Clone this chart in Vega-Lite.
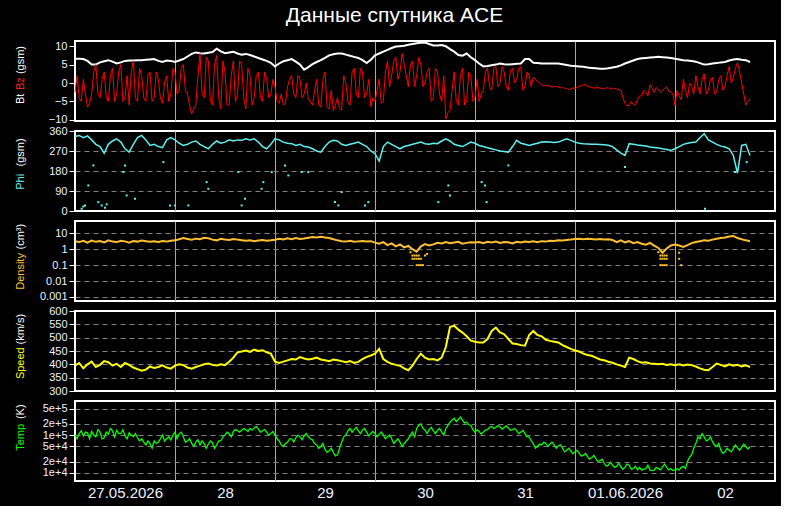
{
  "$schema": "https://vega.github.io/schema/vega-lite/v6.json",
  "background": "black",
  "padding": {"left": 12, "top": 5, "right": 5, "bottom": 5},
  "bounds": "flush",
  "spacing": 10,
  "title": {"text": "Данные спутника ACE", "color": "white", "font": "Liberation Sans", "fontSize": 21, "fontWeight": "normal", "anchor": "middle", "offset": 11},
  "config": {
    "view": {"stroke": "white", "strokeWidth": 2},
    "axisY": {"domain": false, "tickColor": "white", "tickSize": 6, "tickWidth": 1, "labelColor": "#eef2ff", "labelFont": "Liberation Sans", "labelFontSize": 11, "labelPadding": 2, "gridColor": "#808080", "gridDash": [5, 4], "gridWidth": 1, "titleFont": "Liberation Sans", "titleFontSize": 11, "titleFontWeight": "normal", "titleAngle": 270, "titleAlign": "left", "titleBaseline": "alphabetic", "titleX": -52, "titleColor": "white", "titlePadding": 0},
    "axisX": {"domain": false, "ticks": false, "grid": true, "gridColor": "#a8a8a8", "gridWidth": 1, "labelColor": "#eef2ff", "labelFont": "Liberation Sans", "labelFontSize": 15, "labelPadding": 4, "labelFlush": false}
  },
  "datasets": {
    "sw": [
      {"h":0,"bt":6.6,"phi":335,"n":3.2,"v":395},{"h":1,"bt":6.6,"phi":340,"n":2.8,"v":405},{"h":2,"bt":6.5,"phi":330,"n":3.4,"v":385},
      {"h":3,"bt":6.0,"phi":338,"n":2.6,"v":400},{"h":4,"bt":5.0,"phi":320,"n":3.5,"v":410},{"h":5,"bt":5.0,"phi":300,"n":2.9,"v":390},
      {"h":6,"bt":5.6,"phi":290,"n":3.3,"v":398},{"h":7,"bt":5.9,"phi":260,"n":2.7,"v":412},{"h":8,"bt":6.2,"phi":300,"n":3.6,"v":408},
      {"h":9,"bt":5.8,"phi":315,"n":3.0,"v":395},{"h":10,"bt":5.3,"phi":325,"n":2.8,"v":402},{"h":11,"bt":5.6,"phi":310,"n":3.4,"v":390},
      {"h":12,"bt":6.0,"phi":280,"n":3.1,"v":405},{"h":13,"bt":6.1,"phi":265,"n":2.6,"v":398},{"h":14,"bt":6.1,"phi":300,"n":3.3,"v":388},
      {"h":15,"bt":6.2,"phi":330,"n":3.0,"v":382},{"h":16,"bt":6.2,"phi":340,"n":3.5,"v":376},{"h":17,"bt":6.3,"phi":320,"n":3.2,"v":380},
      {"h":18,"bt":6.4,"phi":295,"n":2.9,"v":392},{"h":19,"bt":6.5,"phi":300,"n":3.1,"v":386},{"h":20,"bt":6.0,"phi":290,"n":2.8,"v":390},
      {"h":21,"bt":5.7,"phi":285,"n":3.3,"v":396},{"h":22,"bt":6.1,"phi":320,"n":3.0,"v":388},{"h":23,"bt":6.0,"phi":330,"n":3.4,"v":384},
      {"h":24,"bt":5.7,"phi":320,"n":3.6,"v":395},{"h":25,"bt":6.1,"phi":305,"n":4.2,"v":400},{"h":26,"bt":6.5,"phi":295,"n":5.0,"v":397},
      {"h":27,"bt":7.2,"phi":300,"n":4.4,"v":388},{"h":28,"bt":7.9,"phi":310,"n":3.9,"v":384},{"h":29,"bt":8.3,"phi":315,"n":4.6,"v":390},
      {"h":30,"bt":8.1,"phi":300,"n":4.2,"v":395},{"h":31,"bt":8.0,"phi":290,"n":5.2,"v":400},{"h":32,"bt":8.2,"phi":280,"n":4.8,"v":403},
      {"h":33,"bt":8.4,"phi":300,"n":4.0,"v":398},{"h":34,"bt":9.3,"phi":315,"n":3.6,"v":396},{"h":35,"bt":8.6,"phi":305,"n":4.5,"v":400},
      {"h":36,"bt":8.1,"phi":310,"n":4.1,"v":397},{"h":37,"bt":8.3,"phi":320,"n":3.8,"v":410},{"h":38,"bt":8.5,"phi":315,"n":4.4,"v":425},
      {"h":39,"bt":8.0,"phi":320,"n":4.0,"v":445},{"h":40,"bt":7.7,"phi":318,"n":3.7,"v":448},{"h":41,"bt":7.9,"phi":325,"n":3.4,"v":452},
      {"h":42,"bt":7.6,"phi":320,"n":3.6,"v":447},{"h":43,"bt":7.2,"phi":325,"n":3.2,"v":455},{"h":44,"bt":6.8,"phi":310,"n":3.5,"v":450},
      {"h":45,"bt":6.4,"phi":290,"n":3.8,"v":453},{"h":46,"bt":6.0,"phi":280,"n":3.4,"v":445},{"h":47,"bt":5.5,"phi":300,"n":3.6,"v":440},
      {"h":48,"bt":4.5,"phi":325,"n":3.9,"v":410},{"h":49,"bt":5.3,"phi":320,"n":4.5,"v":405},{"h":50,"bt":5.9,"phi":310,"n":4.1,"v":410},
      {"h":51,"bt":6.2,"phi":305,"n":4.8,"v":415},{"h":52,"bt":6.5,"phi":303,"n":4.3,"v":420},{"h":53,"bt":5.8,"phi":295,"n":5.0,"v":418},
      {"h":54,"bt":5.0,"phi":300,"n":4.4,"v":427},{"h":55,"bt":3.6,"phi":290,"n":4.7,"v":422},{"h":56,"bt":4.3,"phi":288,"n":5.2,"v":418},
      {"h":57,"bt":5.1,"phi":280,"n":5.8,"v":421},{"h":58,"bt":5.7,"phi":270,"n":5.4,"v":425},{"h":59,"bt":6.2,"phi":265,"n":6.0,"v":418},
      {"h":60,"bt":6.8,"phi":290,"n":5.5,"v":415},{"h":61,"bt":7.5,"phi":310,"n":5.0,"v":412},{"h":62,"bt":7.8,"phi":318,"n":4.2,"v":418},
      {"h":63,"bt":8.0,"phi":315,"n":3.6,"v":415},{"h":64,"bt":8.0,"phi":300,"n":3.2,"v":412},{"h":65,"bt":7.7,"phi":295,"n":3.0,"v":408},
      {"h":66,"bt":7.4,"phi":300,"n":3.4,"v":412},{"h":67,"bt":7.1,"phi":305,"n":2.9,"v":405},{"h":68,"bt":6.8,"phi":310,"n":3.1,"v":409},
      {"h":69,"bt":6.2,"phi":300,"n":3.3,"v":420},{"h":70,"bt":5.4,"phi":290,"n":3.0,"v":428},{"h":71,"bt":6.3,"phi":270,"n":3.2,"v":433},
      {"h":72,"bt":7.5,"phi":258,"n":2.6,"v":440},{"h":73,"bt":8.0,"phi":225,"n":2.2,"v":458},{"h":74,"bt":8.5,"phi":290,"n":2.8,"v":420},
      {"h":75,"bt":9.0,"phi":310,"n":1.8,"v":409},{"h":76,"bt":9.5,"phi":300,"n":2.3,"v":402},{"h":77,"bt":9.9,"phi":290,"n":1.5,"v":398},
      {"h":78,"bt":10.0,"phi":280,"n":2.0,"v":395},{"h":79,"bt":10.1,"phi":290,"n":1.3,"v":385},{"h":80,"bt":10.4,"phi":295,"n":1.6,"v":378},
      {"h":81,"bt":10.6,"phi":300,"n":1.0,"v":395},{"h":82,"bt":10.8,"phi":305,"n":0.7,"v":420},{"h":83,"bt":10.9,"phi":310,"n":1.5,"v":440},
      {"h":84,"bt":11.0,"phi":303,"n":2.1,"v":425},{"h":85,"bt":10.6,"phi":300,"n":1.7,"v":418},{"h":86,"bt":10.2,"phi":305,"n":2.0,"v":420},
      {"h":87,"bt":10.2,"phi":303,"n":2.5,"v":415},{"h":88,"bt":10.3,"phi":315,"n":2.3,"v":425},{"h":89,"bt":10.0,"phi":325,"n":2.8,"v":465},
      {"h":90,"bt":9.2,"phi":315,"n":2.4,"v":540},{"h":91,"bt":8.5,"phi":300,"n":2.6,"v":545},{"h":92,"bt":7.6,"phi":295,"n":2.9,"v":530},
      {"h":93,"bt":7.4,"phi":290,"n":2.2,"v":519},{"h":94,"bt":8.0,"phi":300,"n":2.5,"v":505},{"h":95,"bt":7.0,"phi":310,"n":2.7,"v":489},
      {"h":96,"bt":6.2,"phi":305,"n":2.6,"v":485},{"h":97,"bt":5.3,"phi":295,"n":2.8,"v":482},{"h":98,"bt":4.5,"phi":290,"n":2.4,"v":482},
      {"h":99,"bt":4.6,"phi":285,"n":2.9,"v":495},{"h":100,"bt":4.8,"phi":280,"n":2.6,"v":525},{"h":101,"bt":5.0,"phi":275,"n":3.0,"v":538},
      {"h":102,"bt":5.3,"phi":270,"n":2.5,"v":520},{"h":103,"bt":5.1,"phi":268,"n":2.8,"v":513},{"h":104,"bt":5.0,"phi":265,"n":2.7,"v":495},
      {"h":105,"bt":5.1,"phi":290,"n":2.3,"v":478},{"h":106,"bt":5.2,"phi":318,"n":2.9,"v":476},{"h":107,"bt":5.3,"phi":305,"n":2.6,"v":472},
      {"h":108,"bt":6.5,"phi":300,"n":3.0,"v":470},{"h":109,"bt":6.5,"phi":295,"n":2.8,"v":510},{"h":110,"bt":5.5,"phi":300,"n":3.1,"v":525},
      {"h":111,"bt":5.4,"phi":305,"n":2.7,"v":510},{"h":112,"bt":5.3,"phi":310,"n":3.2,"v":505},{"h":113,"bt":5.3,"phi":312,"n":3.0,"v":492},
      {"h":114,"bt":5.3,"phi":310,"n":3.4,"v":488},{"h":115,"bt":5.3,"phi":308,"n":3.3,"v":485},{"h":116,"bt":5.3,"phi":310,"n":3.6,"v":482},
      {"h":117,"bt":5.1,"phi":318,"n":3.5,"v":472},{"h":118,"bt":4.9,"phi":325,"n":3.8,"v":465},{"h":119,"bt":4.7,"phi":318,"n":4.0,"v":458},
      {"h":120,"bt":4.6,"phi":310,"n":4.3,"v":452},{"h":121,"bt":4.5,"phi":305,"n":4.6,"v":448},{"h":122,"bt":4.4,"phi":303,"n":4.2,"v":440},
      {"h":123,"bt":4.2,"phi":302,"n":4.5,"v":435},{"h":124,"bt":4.1,"phi":300,"n":4.4,"v":432},{"h":125,"bt":4.0,"phi":300,"n":4.1,"v":425},
      {"h":126,"bt":3.9,"phi":299,"n":4.3,"v":418},{"h":127,"bt":3.9,"phi":298,"n":4.0,"v":415},{"h":128,"bt":4.0,"phi":296,"n":4.2,"v":410},
      {"h":129,"bt":4.2,"phi":290,"n":3.8,"v":406},{"h":130,"bt":4.4,"phi":275,"n":2.8,"v":400},{"h":131,"bt":4.8,"phi":260,"n":3.6,"v":395},
      {"h":132,"bt":5.3,"phi":250,"n":2.7,"v":390},{"h":133,"bt":5.7,"phi":303,"n":3.2,"v":425},{"h":134,"bt":6.1,"phi":300,"n":2.4,"v":420},
      {"h":135,"bt":6.5,"phi":297,"n":2.8,"v":412},{"h":136,"bt":6.7,"phi":295,"n":2.2,"v":406},{"h":137,"bt":6.8,"phi":292,"n":1.9,"v":408},
      {"h":138,"bt":6.9,"phi":288,"n":2.5,"v":403},{"h":139,"bt":7.0,"phi":286,"n":1.7,"v":402},{"h":140,"bt":7.1,"phi":284,"n":1.2,"v":400},
      {"h":141,"bt":7.0,"phi":280,"n":0.6,"v":402},{"h":142,"bt":6.9,"phi":277,"n":1.1,"v":398},{"h":143,"bt":6.8,"phi":273,"n":1.7,"v":400},
      {"h":144,"bt":6.6,"phi":280,"n":2.0,"v":397},{"h":145,"bt":6.4,"phi":290,"n":1.7,"v":400},{"h":146,"bt":6.2,"phi":300,"n":1.4,"v":396},
      {"h":147,"bt":6.1,"phi":305,"n":1.8,"v":399},{"h":148,"bt":6.0,"phi":308,"n":2.4,"v":397},{"h":149,"bt":5.8,"phi":310,"n":2.8,"v":392},
      {"h":150,"bt":5.4,"phi":330,"n":3.2,"v":385},{"h":151,"bt":5.0,"phi":348,"n":3.6,"v":380},{"h":152,"bt":5.1,"phi":320,"n":3.4,"v":378},
      {"h":153,"bt":5.3,"phi":310,"n":4.0,"v":390},{"h":154,"bt":5.4,"phi":300,"n":4.5,"v":403},{"h":155,"bt":5.6,"phi":292,"n":5.0,"v":398},
      {"h":156,"bt":5.7,"phi":288,"n":5.5,"v":392},{"h":157,"bt":6.1,"phi":280,"n":6.3,"v":400},{"h":158,"bt":6.4,"phi":250,"n":6.8,"v":395},
      {"h":159,"bt":6.5,"phi":170,"n":5.0,"v":398},{"h":160,"bt":6.3,"phi":295,"n":4.2,"v":392},{"h":161,"bt":6.2,"phi":300,"n":3.6,"v":396},
      {"h":162,"bt":5.7,"phi":250,"n":3.2,"v":390}
    ],
    "bz": [
      {"h":0,"bz":-2.5},{"h":0.5,"bz":2},{"h":1,"bz":-4},{"h":1.5,"bz":-5},{"h":2,"bz":1},{"h":2.5,"bz":-3},{"h":3,"bz":-6.5},{"h":3.5,"bz":-5.5},
      {"h":4,"bz":-3},{"h":4.5,"bz":3},{"h":5,"bz":5},{"h":5.5,"bz":-3},{"h":6,"bz":-4},{"h":6.5,"bz":1},{"h":7,"bz":3},{"h":7.5,"bz":-4},
      {"h":8,"bz":-5},{"h":8.5,"bz":2},{"h":9,"bz":4},{"h":9.5,"bz":-5},{"h":10,"bz":-3},{"h":10.5,"bz":3},{"h":11,"bz":5},{"h":11.5,"bz":-5},
      {"h":12,"bz":-4},{"h":12.5,"bz":2},{"h":13,"bz":-6},{"h":13.5,"bz":3},{"h":14,"bz":6},{"h":14.5,"bz":-4},{"h":15,"bz":-5},{"h":15.5,"bz":4},
      {"h":16,"bz":2},{"h":16.5,"bz":-4},{"h":17,"bz":-5},{"h":17.5,"bz":2},{"h":18,"bz":3},{"h":18.5,"bz":-5},{"h":19,"bz":-4},{"h":19.5,"bz":3},
      {"h":20,"bz":1},{"h":20.5,"bz":-4},{"h":21,"bz":-5.5},{"h":21.5,"bz":0},{"h":22,"bz":2},{"h":22.5,"bz":-5},{"h":23,"bz":-3},{"h":23.5,"bz":4},
      {"h":24,"bz":3},{"h":24.5,"bz":-3},{"h":25,"bz":-2},{"h":25.5,"bz":4},{"h":26,"bz":5},{"h":26.5,"bz":-2},{"h":27,"bz":-3},{"h":27.5,"bz":-6},
      {"h":28,"bz":-8.4},{"h":28.5,"bz":-7},{"h":29,"bz":-6},{"h":29.5,"bz":2},{"h":30,"bz":8},{"h":30.5,"bz":-3},{"h":31,"bz":-4},{"h":31.5,"bz":7},
      {"h":32,"bz":6},{"h":32.5,"bz":-5},{"h":33,"bz":-6},{"h":33.5,"bz":5},{"h":34,"bz":7.5},{"h":34.5,"bz":-4},{"h":35,"bz":-7},{"h":35.5,"bz":6},
      {"h":36,"bz":3},{"h":36.5,"bz":-6},{"h":37,"bz":-6},{"h":37.5,"bz":2},{"h":38,"bz":6},{"h":38.5,"bz":-5},{"h":39,"bz":-3},{"h":39.5,"bz":6},
      {"h":40,"bz":5},{"h":40.5,"bz":-4},{"h":41,"bz":-7},{"h":41.5,"bz":4},{"h":42,"bz":2},{"h":42.5,"bz":-6},{"h":43,"bz":-4},{"h":43.5,"bz":2},
      {"h":44,"bz":3},{"h":44.5,"bz":-4},{"h":45,"bz":-5},{"h":45.5,"bz":3},{"h":46,"bz":1},{"h":46.5,"bz":-4},{"h":47,"bz":-3},{"h":47.5,"bz":1},
      {"h":48,"bz":-1},{"h":48.5,"bz":-5},{"h":49,"bz":-5.5},{"h":49.5,"bz":-3},{"h":50,"bz":-6},{"h":50.5,"bz":-5.5},{"h":51,"bz":-1},{"h":51.5,"bz":1},
      {"h":52,"bz":2},{"h":52.5,"bz":-3},{"h":53,"bz":-4},{"h":53.5,"bz":2},{"h":54,"bz":1},{"h":54.5,"bz":-4},{"h":55,"bz":-3},{"h":55.5,"bz":0},
      {"h":56,"bz":-4.5},{"h":56.5,"bz":-5},{"h":57,"bz":-6},{"h":57.5,"bz":-2},{"h":58,"bz":1},{"h":58.5,"bz":-6},{"h":59,"bz":-6.5},{"h":59.5,"bz":1},
      {"h":60,"bz":3},{"h":60.5,"bz":-6.5},{"h":61,"bz":-7},{"h":61.5,"bz":-2},{"h":62,"bz":-7.5},{"h":62.5,"bz":-6},{"h":63,"bz":-4},{"h":63.5,"bz":-7},
      {"h":64,"bz":-7.3},{"h":64.5,"bz":2},{"h":65,"bz":0},{"h":65.5,"bz":-5},{"h":66,"bz":-6},{"h":66.5,"bz":3},{"h":67,"bz":4},{"h":67.5,"bz":-3},
      {"h":68,"bz":-4},{"h":68.5,"bz":4},{"h":69,"bz":3},{"h":69.5,"bz":-4},{"h":70,"bz":-3},{"h":70.5,"bz":1},{"h":71,"bz":-6.5},{"h":71.5,"bz":-4},
      {"h":72,"bz":-5},{"h":72.5,"bz":-2},{"h":73,"bz":1},{"h":73.5,"bz":-5.5},{"h":74,"bz":-5},{"h":74.5,"bz":3},{"h":75,"bz":6},{"h":75.5,"bz":-1},
      {"h":76,"bz":2},{"h":76.5,"bz":6},{"h":77,"bz":7},{"h":77.5,"bz":1},{"h":78,"bz":3},{"h":78.5,"bz":8},{"h":79,"bz":5},{"h":79.5,"bz":2},
      {"h":80,"bz":-1},{"h":80.5,"bz":5},{"h":81,"bz":6},{"h":81.5,"bz":-1},{"h":82,"bz":2},{"h":82.5,"bz":7},{"h":83,"bz":5},{"h":83.5,"bz":-1},
      {"h":84,"bz":0},{"h":84.5,"bz":3},{"h":85,"bz":4},{"h":85.5,"bz":-5},{"h":86,"bz":-4},{"h":86.5,"bz":4},{"h":87,"bz":3},{"h":87.5,"bz":-3},
      {"h":88,"bz":-5},{"h":88.5,"bz":2},{"h":89,"bz":-9.7},{"h":89.5,"bz":-8},{"h":90,"bz":-7.5},{"h":90.5,"bz":-2},{"h":91,"bz":3},{"h":91.5,"bz":-5},
      {"h":92,"bz":-6},{"h":92.5,"bz":2},{"h":93,"bz":4},{"h":93.5,"bz":-6},{"h":94,"bz":-5},{"h":94.5,"bz":3},{"h":95,"bz":2},{"h":95.5,"bz":-5},
      {"h":96,"bz":-4},{"h":96.5,"bz":1},{"h":97,"bz":-5},{"h":97.5,"bz":-3},{"h":98,"bz":-2},{"h":98.5,"bz":3},{"h":99,"bz":4},{"h":99.5,"bz":-1},
      {"h":100,"bz":-2},{"h":100.5,"bz":4},{"h":101,"bz":4.5},{"h":101.5,"bz":-1},{"h":102,"bz":0},{"h":102.5,"bz":4.5},{"h":103,"bz":3},{"h":103.5,"bz":-1},
      {"h":104,"bz":-2},{"h":104.5,"bz":3.5},{"h":105,"bz":4},{"h":105.5,"bz":0},{"h":106,"bz":1},{"h":106.5,"bz":4},{"h":107,"bz":4.5},{"h":107.5,"bz":-2},
      {"h":108,"bz":-1},{"h":108.5,"bz":3},{"h":109,"bz":2},{"h":109.5,"bz":-1},{"h":110,"bz":1.6},{"h":110.5,"bz":1},{"h":111,"bz":0.5},{"h":111.5,"bz":0},
      {"h":112,"bz":-0.5},{"h":112.5,"bz":-0.7},{"h":113,"bz":-0.8},{"h":113.5,"bz":-0.6},{"h":114,"bz":-0.9},{"h":114.5,"bz":-1.1},{"h":115,"bz":-1.0},{"h":115.5,"bz":-0.9},
      {"h":116,"bz":-1.1},{"h":116.5,"bz":-1.3},{"h":117,"bz":-1.2},{"h":117.5,"bz":-1.4},{"h":118,"bz":-1.5},{"h":118.5,"bz":-1.8},{"h":119,"bz":-1.6},{"h":119.5,"bz":-1.3},
      {"h":120,"bz":-1.5},{"h":120.5,"bz":-1.2},{"h":121,"bz":-1.0},{"h":121.5,"bz":-0.7},{"h":122,"bz":-0.5},{"h":122.5,"bz":-0.4},{"h":123,"bz":-0.9},{"h":123.5,"bz":-1.1},
      {"h":124,"bz":-1.2},{"h":124.5,"bz":-1.4},{"h":125,"bz":-1.3},{"h":125.5,"bz":-1.2},{"h":126,"bz":-1.4},{"h":126.5,"bz":-1.6},{"h":127,"bz":-1.5},{"h":127.5,"bz":-1.3},
      {"h":128,"bz":-1.3},{"h":128.5,"bz":-1.6},{"h":129,"bz":-1.5},{"h":129.5,"bz":-1.4},{"h":130,"bz":-1.6},{"h":130.5,"bz":-1.8},{"h":131,"bz":-2},{"h":131.5,"bz":-4},
      {"h":132,"bz":-5.5},{"h":132.5,"bz":-6.2},{"h":133,"bz":-6},{"h":133.5,"bz":-5},{"h":134,"bz":-5.8},{"h":134.5,"bz":-6},{"h":135,"bz":-4.5},{"h":135.5,"bz":-3.5},
      {"h":136,"bz":-3.5},{"h":136.5,"bz":-2},{"h":137,"bz":-2.5},{"h":137.5,"bz":-3.5},{"h":138,"bz":-0.5},{"h":138.5,"bz":-1.5},{"h":139,"bz":-2.5},{"h":139.5,"bz":-1.2},
      {"h":140,"bz":-1.8},{"h":140.5,"bz":-2.5},{"h":141,"bz":-2},{"h":141.5,"bz":-1.5},{"h":142,"bz":-1},{"h":142.5,"bz":-2.2},{"h":143,"bz":-2.5},{"h":143.5,"bz":-3},
      {"h":144,"bz":-6},{"h":144.5,"bz":-2},{"h":145,"bz":-3.5},{"h":145.5,"bz":-4.5},{"h":146,"bz":1},{"h":146.5,"bz":-2},{"h":147,"bz":-4},{"h":147.5,"bz":0},
      {"h":148,"bz":-1},{"h":148.5,"bz":-3},{"h":149,"bz":2},{"h":149.5,"bz":-1},{"h":150,"bz":-3},{"h":150.5,"bz":1},{"h":151,"bz":2.5},{"h":151.5,"bz":-3},
      {"h":152,"bz":-2},{"h":152.5,"bz":1},{"h":153,"bz":1.5},{"h":153.5,"bz":-3},{"h":154,"bz":-2.5},{"h":154.5,"bz":1},{"h":155,"bz":2},{"h":155.5,"bz":-2},
      {"h":156,"bz":-1},{"h":156.5,"bz":2},{"h":157,"bz":4.5},{"h":157.5,"bz":0},{"h":158,"bz":1.5},{"h":158.5,"bz":4},{"h":159,"bz":5.5},{"h":159.5,"bz":3},
      {"h":160,"bz":0},{"h":160.5,"bz":-3},{"h":161,"bz":-6},{"h":161.5,"bz":-5},{"h":162,"bz":-4.3}
    ],
    "tt": [
      {"h":0,"T":1.0e5},{"h":0.5,"T":8e4},{"h":1,"T":1.1e5},{"h":1.5,"T":1.3e5},{"h":2,"T":9.5e4},{"h":2.5,"T":1.2e5},{"h":3,"T":1.15e5},{"h":3.5,"T":8e4},
      {"h":4,"T":1.25e5},{"h":4.5,"T":1.0e5},{"h":5,"T":9e4},{"h":5.5,"T":1.4e5},{"h":6,"T":1.2e5},{"h":6.5,"T":8e4},{"h":7,"T":8.5e4},{"h":7.5,"T":1.2e5},
      {"h":8,"T":1.05e5},{"h":8.5,"T":1.5e5},{"h":9,"T":1.3e5},{"h":9.5,"T":9e4},{"h":10,"T":1.35e5},{"h":10.5,"T":1.1e5},{"h":11,"T":1.1e5},{"h":11.5,"T":1.4e5},
      {"h":12,"T":9.5e4},{"h":12.5,"T":8e4},{"h":13,"T":1.15e5},{"h":13.5,"T":1.0e5},{"h":14,"T":9e4},{"h":14.5,"T":1.1e5},{"h":15,"T":8.5e4},{"h":15.5,"T":7e4},
      {"h":16,"T":8e4},{"h":16.5,"T":6.5e4},{"h":17,"T":5.5e4},{"h":17.5,"T":7e4},{"h":18,"T":6e4},{"h":18.5,"T":4.5e4},{"h":19,"T":7e4},{"h":19.5,"T":6e4},
      {"h":20,"T":6.5e4},{"h":20.5,"T":8e4},{"h":21,"T":1.0e5},{"h":21.5,"T":7e4},{"h":22,"T":8e4},{"h":22.5,"T":9e4},{"h":23,"T":7.5e4},{"h":23.5,"T":1.0e5},
      {"h":24,"T":1.2e5},{"h":24.5,"T":8e4},{"h":25,"T":1.1e5},{"h":25.5,"T":1.2e5},{"h":26,"T":9e4},{"h":26.5,"T":6.5e4},{"h":27,"T":7e4},{"h":27.5,"T":8e4},
      {"h":28,"T":6e4},{"h":28.5,"T":5e4},{"h":29,"T":6.5e4},{"h":29.5,"T":7.5e4},{"h":30,"T":5.5e4},{"h":30.5,"T":7e4},{"h":31,"T":6e4},{"h":31.5,"T":4.5e4},
      {"h":32,"T":5.8e4},{"h":32.5,"T":7e4},{"h":33,"T":6.2e4},{"h":33.5,"T":4.5e4},{"h":34,"T":5.5e4},{"h":34.5,"T":7e4},{"h":35,"T":7e4},{"h":35.5,"T":9e4},
      {"h":36,"T":1.0e5},{"h":36.5,"T":1.2e5},{"h":37,"T":1.1e5},{"h":37.5,"T":9e4},{"h":38,"T":1.25e5},{"h":38.5,"T":1.4e5},{"h":39,"T":1.3e5},{"h":39.5,"T":1.2e5},
      {"h":40,"T":1.35e5},{"h":40.5,"T":1.5e5},{"h":41,"T":1.4e5},{"h":41.5,"T":1.25e5},{"h":42,"T":1.5e5},{"h":42.5,"T":1.35e5},{"h":43,"T":1.55e5},{"h":43.5,"T":1.7e5},
      {"h":44,"T":1.45e5},{"h":44.5,"T":1.2e5},{"h":45,"T":1.3e5},{"h":45.5,"T":1.4e5},{"h":46,"T":1.2e5},{"h":46.5,"T":1.0e5},{"h":47,"T":1.1e5},{"h":47.5,"T":1.25e5},
      {"h":48,"T":1.0e5},{"h":48.5,"T":8e4},{"h":49,"T":7e4},{"h":49.5,"T":5.5e4},{"h":50,"T":5e4},{"h":50.5,"T":6e4},{"h":51,"T":6.5e4},{"h":51.5,"T":8e4},
      {"h":52,"T":8e4},{"h":52.5,"T":6.5e4},{"h":53,"T":8.5e4},{"h":53.5,"T":1.0e5},{"h":54,"T":9e4},{"h":54.5,"T":7.5e4},{"h":55,"T":9.5e4},{"h":55.5,"T":1.1e5},
      {"h":56,"T":9e4},{"h":56.5,"T":8e4},{"h":57,"T":7.5e4},{"h":57.5,"T":6e4},{"h":58,"T":5.5e4},{"h":58.5,"T":4.5e4},{"h":59,"T":5e4},{"h":59.5,"T":6e4},
      {"h":60,"T":4.2e4},{"h":60.5,"T":3.5e4},{"h":61,"T":3.8e4},{"h":61.5,"T":4.5e4},{"h":62,"T":3.5e4},{"h":62.5,"T":2.8e4},{"h":63,"T":3e4},{"h":63.5,"T":4.5e4},
      {"h":64,"T":6.5e4},{"h":64.5,"T":9e4},{"h":65,"T":1.0e5},{"h":65.5,"T":1.3e5},{"h":66,"T":1.5e5},{"h":66.5,"T":1.2e5},{"h":67,"T":1.4e5},{"h":67.5,"T":1.6e5},
      {"h":68,"T":1.3e5},{"h":68.5,"T":1.1e5},{"h":69,"T":1.35e5},{"h":69.5,"T":1.5e5},{"h":70,"T":1.2e5},{"h":70.5,"T":9.5e4},{"h":71,"T":1.1e5},{"h":71.5,"T":1.25e5},
      {"h":72,"T":1.1e5},{"h":72.5,"T":9e4},{"h":73,"T":1.05e5},{"h":73.5,"T":1.2e5},{"h":74,"T":1.0e5},{"h":74.5,"T":8e4},{"h":75,"T":9e4},{"h":75.5,"T":1.0e5},
      {"h":76,"T":8e4},{"h":76.5,"T":6e4},{"h":77,"T":7e4},{"h":77.5,"T":8e4},{"h":78,"T":6.5e4},{"h":78.5,"T":5e4},{"h":79,"T":6e4},{"h":79.5,"T":7e4},
      {"h":80,"T":8e4},{"h":80.5,"T":1.0e5},{"h":81,"T":1.2e5},{"h":81.5,"T":9e4},{"h":82,"T":1.5e5},{"h":82.5,"T":1.8e5},{"h":83,"T":2.0e5},{"h":83.5,"T":1.5e5},
      {"h":84,"T":1.35e5},{"h":84.5,"T":1.1e5},{"h":85,"T":1.4e5},{"h":85.5,"T":1.6e5},{"h":86,"T":1.3e5},{"h":86.5,"T":1.1e5},{"h":87,"T":1.35e5},{"h":87.5,"T":1.5e5},
      {"h":88,"T":1.2e5},{"h":88.5,"T":1.0e5},{"h":89,"T":1.5e5},{"h":89.5,"T":1.8e5},{"h":90,"T":2.2e5},{"h":90.5,"T":2.5e5},{"h":91,"T":2.8e5},{"h":91.5,"T":2.3e5},
      {"h":92,"T":2.6e5},{"h":92.5,"T":3.0e5},{"h":93,"T":2.5e5},{"h":93.5,"T":2.1e5},{"h":94,"T":2.2e5},{"h":94.5,"T":1.9e5},{"h":95,"T":1.8e5},{"h":95.5,"T":1.4e5},
      {"h":96,"T":1.2e5},{"h":96.5,"T":1.4e5},{"h":97,"T":1.25e5},{"h":97.5,"T":1.05e5},{"h":98,"T":1.2e5},{"h":98.5,"T":1.35e5},{"h":99,"T":1.4e5},{"h":99.5,"T":1.6e5},
      {"h":100,"T":1.7e5},{"h":100.5,"T":1.5e5},{"h":101,"T":1.6e5},{"h":101.5,"T":1.8e5},{"h":102,"T":1.65e5},{"h":102.5,"T":1.45e5},{"h":103,"T":1.6e5},{"h":103.5,"T":1.75e5},
      {"h":104,"T":1.55e5},{"h":104.5,"T":1.35e5},{"h":105,"T":1.4e5},{"h":105.5,"T":1.5e5},{"h":106,"T":1.3e5},{"h":106.5,"T":1.1e5},{"h":107,"T":1.2e5},{"h":107.5,"T":1.35e5},
      {"h":108,"T":1.1e5},{"h":108.5,"T":9e4},{"h":109,"T":9e4},{"h":109.5,"T":7e4},{"h":110,"T":6e4},{"h":110.5,"T":4.5e4},{"h":111,"T":5e4},{"h":111.5,"T":5.8e4},
      {"h":112,"T":5.5e4},{"h":112.5,"T":6.5e4},{"h":113,"T":6e4},{"h":113.5,"T":5e4},{"h":114,"T":5.8e4},{"h":114.5,"T":6.5e4},{"h":115,"T":5.5e4},{"h":115.5,"T":4.5e4},
      {"h":116,"T":5.2e4},{"h":116.5,"T":5.5e4},{"h":117,"T":4.5e4},{"h":117.5,"T":3.6e4},{"h":118,"T":4e4},{"h":118.5,"T":4.5e4},{"h":119,"T":3.8e4},{"h":119.5,"T":3.2e4},
      {"h":120,"T":3.6e4},{"h":120.5,"T":4e4},{"h":121,"T":3.3e4},{"h":121.5,"T":2.8e4},{"h":122,"T":2.9e4},{"h":122.5,"T":3.3e4},{"h":123,"T":2.7e4},{"h":123.5,"T":2.3e4},
      {"h":124,"T":2.5e4},{"h":124.5,"T":2.9e4},{"h":125,"T":2.4e4},{"h":125.5,"T":2e4},{"h":126,"T":2.1e4},{"h":126.5,"T":2.3e4},{"h":127,"T":1.8e4},{"h":127.5,"T":1.5e4},
      {"h":128,"T":1.6e4},{"h":128.5,"T":1.9e4},{"h":129,"T":1.6e4},{"h":129.5,"T":1.4e4},{"h":130,"T":1.5e4},{"h":130.5,"T":1.8e4},{"h":131,"T":1.45e4},{"h":131.5,"T":1.25e4},
      {"h":132,"T":1.4e4},{"h":132.5,"T":1.7e4},{"h":133,"T":1.6e4},{"h":133.5,"T":1.25e4},{"h":134,"T":1.3e4},{"h":134.5,"T":1.5e4},{"h":135,"T":1.2e4},{"h":135.5,"T":1.4e4},
      {"h":136,"T":1.18e4},{"h":136.5,"T":1.25e4},{"h":137,"T":1.3e4},{"h":137.5,"T":1.6e4},{"h":138,"T":1.2e4},{"h":138.5,"T":1.15e4},{"h":139,"T":1.18e4},{"h":139.5,"T":1.4e4},
      {"h":140,"T":1.3e4},{"h":140.5,"T":1.2e4},{"h":141,"T":1.45e4},{"h":141.5,"T":1.7e4},{"h":142,"T":1.4e4},{"h":142.5,"T":1.2e4},{"h":143,"T":1.3e4},{"h":143.5,"T":1.15e4},
      {"h":144,"T":1.2e4},{"h":144.5,"T":1.3e4},{"h":145,"T":1.18e4},{"h":145.5,"T":1.4e4},{"h":146,"T":1.5e4},{"h":146.5,"T":1.3e4},{"h":147,"T":2e4},{"h":147.5,"T":2.6e4},
      {"h":148,"T":3e4},{"h":148.5,"T":4.5e4},{"h":149,"T":6e4},{"h":149.5,"T":9e4},{"h":150,"T":8e4},{"h":150.5,"T":1.1e5},{"h":151,"T":9e4},{"h":151.5,"T":7e4},
      {"h":152,"T":7.5e4},{"h":152.5,"T":9e4},{"h":153,"T":6.6e4},{"h":153.5,"T":5.5e4},{"h":154,"T":5e4},{"h":154.5,"T":6e4},{"h":155,"T":4e4},{"h":155.5,"T":3.3e4},
      {"h":156,"T":3.6e4},{"h":156.5,"T":4.5e4},{"h":157,"T":4e4},{"h":157.5,"T":3.6e4},{"h":158,"T":4.4e4},{"h":158.5,"T":5.5e4},{"h":159,"T":4.6e4},{"h":159.5,"T":4e4},
      {"h":160,"T":4.8e4},{"h":160.5,"T":5.8e4},{"h":161,"T":5e4},{"h":161.5,"T":4.3e4},{"h":162,"T":4.9e4}
    ],
    "phiOut": [
      {"h":1.6,"phi":10},{"h":2,"phi":20},{"h":2.4,"phi":25},{"h":3.2,"phi":115},{"h":4.4,"phi":205},
      {"h":5.6,"phi":40},{"h":6.4,"phi":25},{"h":7.2,"phi":15},{"h":7.6,"phi":30},{"h":11.6,"phi":175},
      {"h":12,"phi":205},{"h":12.4,"phi":70},{"h":14.4,"phi":55},{"h":21.2,"phi":220},{"h":22.8,"phi":25},
      {"h":24,"phi":25},{"h":27.2,"phi":25},{"h":31.6,"phi":130},{"h":32,"phi":100},{"h":39.2,"phi":175},
      {"h":40,"phi":25},{"h":40.8,"phi":55},{"h":44.8,"phi":100},{"h":45.2,"phi":130},{"h":47.2,"phi":175},
      {"h":50.4,"phi":205},{"h":51.2,"phi":160},{"h":54.4,"phi":175},{"h":56,"phi":175},{"h":62.4,"phi":40},
      {"h":63.2,"phi":25},{"h":64,"phi":85},{"h":69.6,"phi":25},{"h":70.4,"phi":40},{"h":87.2,"phi":40},
      {"h":89.6,"phi":115},{"h":90,"phi":70},{"h":97.6,"phi":130},{"h":98.4,"phi":115},{"h":98.8,"phi":40},
      {"h":104,"phi":205},{"h":132,"phi":198},{"h":151.2,"phi":10},{"h":158.4,"phi":175},{"h":161.2,"phi":220}
    ],
    "nOut": [
      {"h":80.5,"n":0.65},{"h":81,"n":0.4},{"h":81.5,"n":0.4},{"h":82,"n":0.4},{"h":82.5,"n":0.4},
      {"h":81,"n":0.25},{"h":81.5,"n":0.25},{"h":82,"n":0.25},{"h":82.5,"n":0.25},{"h":83,"n":0.25},
      {"h":82,"n":0.1},{"h":82.5,"n":0.1},{"h":83,"n":0.1},{"h":83.5,"n":0.1},{"h":84,"n":0.4},
      {"h":84.5,"n":0.5},{"h":140,"n":0.65},{"h":140.5,"n":0.4},{"h":141,"n":0.4},{"h":141.5,"n":0.4},
      {"h":142,"n":0.4},{"h":140.5,"n":0.25},{"h":141,"n":0.25},{"h":141.5,"n":0.25},{"h":142,"n":0.25},
      {"h":140.5,"n":0.1},{"h":141,"n":0.1},{"h":141.5,"n":0.1},{"h":142,"n":0.1},{"h":145,"n":0.25},
      {"h":145.5,"n":0.1},{"h":145,"n":0.6}
    ],
    "blank": [{"b": 0, "v": 450, "T": 1e5}]
  },
  "vconcat": [
    {
      "width": 700, "height": 80,
      "resolve": {"axis": {"y": "independent"}},
      "layer": [
        {
          "data": {"name": "sw"},
          "mark": {"type": "line", "color": "white", "strokeWidth": 2},
          "encoding": {
            "x": {"field": "h", "type": "quantitative", "scale": {"domain": [0, 168], "nice": false, "zero": false}, "axis": {"values": [24, 48, 72, 96, 120, 144], "labels": false, "title": null}},
            "y": {"field": "bt", "type": "quantitative", "scale": {"domain": [-10.3, 11.4], "nice": false, "zero": false}, "axis": {"orient": "left", "title": "Bt", "titleY": 62.6, "labels": false, "ticks": false, "grid": false}}
          }
        },
        {
          "data": {"name": "bz"},
          "mark": {"type": "line", "color": "#ff0000", "strokeWidth": 1},
          "encoding": {
            "x": {"field": "h", "type": "quantitative", "scale": {"domain": [0, 168], "nice": false, "zero": false}, "axis": {"values": [24, 48, 72, 96, 120, 144], "labels": false, "title": null}},
            "y": {"field": "bz", "type": "quantitative", "scale": {"domain": [-10.3, 11.4], "nice": false, "zero": false}, "axis": {"orient": "left", "values": [-10, -5, 0, 5, 10], "title": "Bz", "titleColor": "#ff2020", "titleY": 48.5}}
          }
        },
        {
          "data": {"name": "blank"},
          "mark": {"type": "point", "opacity": 0},
          "encoding": {
            "y": {"field": "b", "type": "quantitative", "scale": {"domain": [-10.3, 11.4], "nice": false, "zero": false}, "axis": {"orient": "left", "title": "(gsm)", "titleY": 32.6, "labels": false, "ticks": false, "grid": false}}
          }
        }
      ]
    },
    {
      "width": 700, "height": 80,
      "resolve": {"axis": {"y": "independent"}},
      "layer": [
        {
          "data": {"name": "sw"},
          "mark": {"type": "line", "color": "#5ff0f0", "strokeWidth": 1.5},
          "encoding": {
            "x": {"field": "h", "type": "quantitative", "scale": {"domain": [0, 168], "nice": false, "zero": false}, "axis": {"values": [24, 48, 72, 96, 120, 144], "labels": false, "title": null}},
            "y": {"field": "phi", "type": "quantitative", "scale": {"domain": [0, 360], "nice": false, "zero": false}, "axis": {"orient": "left", "values": [0, 90, 180, 270, 360], "title": "Phi", "titleColor": "#5ff0f0", "titleY": 58.3, "gridOpacity": {"condition": {"test": "datum.value == 0 || datum.value == 360", "value": 0}, "value": 1}}}
          }
        },
        {
          "data": {"name": "phiOut"},
          "mark": {"type": "point", "shape": "square", "size": 4, "filled": true, "color": "#5ff0f0", "opacity": 1},
          "encoding": {
            "x": {"field": "h", "type": "quantitative", "scale": {"domain": [0, 168], "nice": false, "zero": false}, "axis": {"values": [24, 48, 72, 96, 120, 144], "labels": false, "title": null}},
            "y": {"field": "phi", "type": "quantitative", "scale": {"domain": [0, 360], "nice": false, "zero": false}, "axis": {"orient": "left", "title": "(gsm)", "titleY": 35, "labels": false, "ticks": false, "grid": false}}
          }
        }
      ]
    },
    {
      "width": 700, "height": 80,
      "resolve": {"axis": {"y": "independent"}},
      "layer": [
        {
          "data": {"name": "sw"},
          "mark": {"type": "line", "color": "#ffc030", "strokeWidth": 2},
          "encoding": {
            "x": {"field": "h", "type": "quantitative", "scale": {"domain": [0, 168], "nice": false, "zero": false}, "axis": {"values": [24, 48, 72, 96, 120, 144], "labels": false, "title": null}},
            "y": {"field": "n", "type": "quantitative", "scale": {"type": "log", "domain": [0.00056, 59], "nice": false}, "axis": {"orient": "left", "values": [0.001, 0.01, 0.1, 1, 10], "format": "~g", "title": "Density", "titleColor": "#ffc030", "titleY": 68.3}}
          }
        },
        {
          "data": {"name": "nOut"},
          "mark": {"type": "point", "shape": "square", "size": 4, "filled": true, "color": "#ffc030", "opacity": 1},
          "encoding": {
            "x": {"field": "h", "type": "quantitative", "scale": {"domain": [0, 168], "nice": false, "zero": false}, "axis": {"values": [24, 48, 72, 96, 120, 144], "labels": false, "title": null}},
            "y": {"field": "n", "type": "quantitative", "scale": {"type": "log", "domain": [0.00056, 59], "nice": false}, "axis": {"orient": "left", "title": "(cm³)", "titleY": 28, "labels": false, "ticks": false, "grid": false}}
          }
        }
      ]
    },
    {
      "width": 700, "height": 80,
      "resolve": {"axis": {"y": "independent"}},
      "layer": [
        {
          "data": {"name": "sw"},
          "mark": {"type": "line", "color": "#ffff00", "strokeWidth": 2},
          "encoding": {
            "x": {"field": "h", "type": "quantitative", "scale": {"domain": [0, 168], "nice": false, "zero": false}, "axis": {"values": [24, 48, 72, 96, 120, 144], "labels": false, "title": null}},
            "y": {"field": "v", "type": "quantitative", "scale": {"domain": [300, 600], "nice": false, "zero": false}, "axis": {"orient": "left", "values": [300, 350, 400, 450, 500, 550, 600], "title": "Speed", "titleColor": "#ffff00", "titleY": 67.6, "gridOpacity": {"condition": {"test": "datum.value == 300 || datum.value == 600", "value": 0}, "value": 1}}}
          }
        },
        {
          "data": {"name": "blank"},
          "mark": {"type": "point", "opacity": 0},
          "encoding": {
            "y": {"field": "v", "type": "quantitative", "scale": {"domain": [300, 600], "nice": false, "zero": false}, "axis": {"orient": "left", "title": "(km/s)", "titleY": 33, "labels": false, "ticks": false, "grid": false}}
          }
        }
      ]
    },
    {
      "width": 700, "height": 80,
      "resolve": {"axis": {"y": "independent"}},
      "layer": [
        {
          "data": {"name": "tt"},
          "mark": {"type": "line", "color": "#00ff00", "strokeWidth": 1.3},
          "encoding": {
            "x": {"field": "h", "type": "quantitative", "scale": {"domain": [0, 168], "nice": false, "zero": false}, "axis": {"values": [0, 24, 48, 72, 96, 120, 144], "labelOffset": 50, "labelExpr": "['27.05.2026','28','29','30','31','01.06.2026','02'][round(datum.value / 24)]", "gridOpacity": {"condition": {"test": "datum.value == 0", "value": 0}, "value": 1}, "title": null}},
            "y": {"field": "T", "type": "quantitative", "scale": {"type": "log", "domain": [6100, 800000], "nice": false}, "axis": {"orient": "left", "values": [10000, 20000, 50000, 100000, 200000, 500000], "format": ".0e", "title": "Temp", "titleColor": "#00ff00", "titleY": 49.3}}
          }
        },
        {
          "data": {"name": "blank"},
          "mark": {"type": "point", "opacity": 0},
          "encoding": {
            "y": {"field": "T", "type": "quantitative", "scale": {"type": "log", "domain": [6100, 800000], "nice": false}, "axis": {"orient": "left", "title": "(K)", "titleY": 17.6, "labels": false, "ticks": false, "grid": false}}
          }
        }
      ]
    }
  ]
}
